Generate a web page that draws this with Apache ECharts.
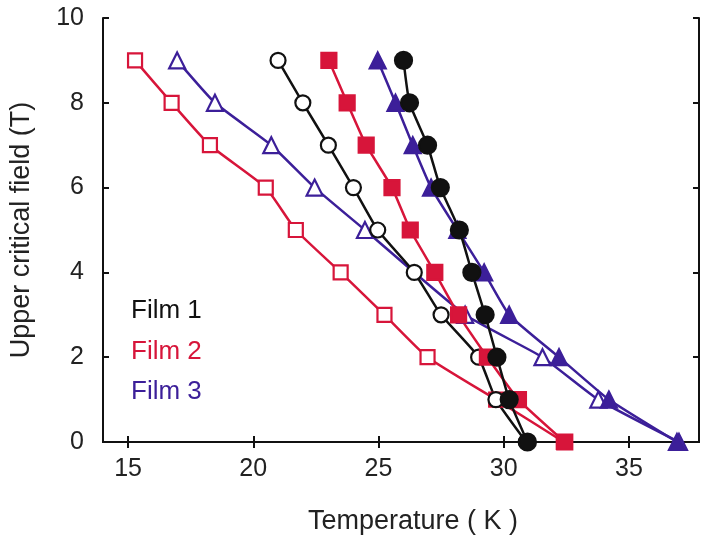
<!DOCTYPE html>
<html>
<head>
<meta charset="utf-8">
<script src="https://cdn.jsdelivr.net/npm/echarts@6/dist/echarts.min.js"></script>
<style>
  html, body { margin: 0; padding: 0; background: #fff; }
  #chart { width: 701px; height: 550px; }
</style>
</head>
<body>
<div id="chart"></div>
<script>
// field values (T) shared by all curves
const fields = [9, 8, 7, 6, 5, 4, 3, 2, 1, 0];
// temperatures (K), one per field value (null = no point)
const film1Open   = [20.99, 21.98, 23.0, 24.0, 24.97, 26.43, 27.5, 29.0, 29.69, 30.9];
const film1Filled = [26.0, 26.24, 26.96, 27.47, 28.23, 28.73, 29.26, 29.73, 30.22, 30.95];
const film2Open   = [15.28, 16.74, 18.27, 20.5, 21.7, 23.49, 25.24, 26.96, 29.7, 32.4];
const film2Filled = [23.02, 23.75, 24.51, 25.54, 26.27, 27.25, 28.2, 29.35, 30.59, 32.44];
const film3Open   = [16.96, 18.47, 20.72, 22.45, 24.46, null, 28.46, 31.55, 33.78, 37.0];
const film3Filled = [24.97, 25.68, 26.37, 27.1, 28.15, 29.22, 30.22, 32.21, 34.2, 36.92];
const xTicks = [15, 20, 25, 30, 35];
const legendNames = ['Film 1', 'Film 2', 'Film 3'];

const BLACK = '#111111', RED = '#d7153a', PURPLE = '#3c1f99';
const FONT = 'Liberation Sans, Arial, sans-serif';

function pairs(temps) {
  let out = [];
  temps.forEach((t, i) => {
    if (t !== null) out.push([t, fields[i]]);
  });
  return out;
}

function curve(name, temps, color, symbol, size, filled) {
  return {
    name: name,
    type: 'line',
    data: pairs(temps),
    smooth: 0.15,
    symbol: symbol,
    symbolSize: size,
    showAllSymbol: true,
    lineStyle: { color: color, width: 2.5 },
    itemStyle: { color: filled ? color : '#fff', borderColor: color, borderWidth: 2.2 },
    emphasis: { disabled: true },
    animation: false
  };
}

let myChart = echarts.init(document.getElementById('chart'));

let option = {
  backgroundColor: '#fff',
  grid: { left: 103, right: 2, top: 18, bottom: 108 },
  xAxis: [
    {
      type: 'value', min: 14, max: 37.8,
      name: 'Temperature ( K )', nameLocation: 'middle', nameGap: 66,
      nameTextStyle: { fontFamily: FONT, fontSize: 27, color: '#222', padding: [0, 0, 0, 24] },
      axisLine: { lineStyle: { color: '#111', width: 2 } },
      axisTick: { inside: true, length: 6, customValues: xTicks, lineStyle: { color: '#111', width: 2 } },
      axisLabel: { customValues: xTicks, margin: 15, fontFamily: FONT, fontSize: 25, color: '#222' },
      splitLine: { show: false }
    },
    {
      type: 'value', position: 'top', min: 14, max: 37.8,
      axisLine: { show: true, lineStyle: { color: '#111', width: 2 } },
      axisTick: { inside: true, length: 6, customValues: xTicks, lineStyle: { color: '#111', width: 2 } },
      axisLabel: { show: false },
      splitLine: { show: false }
    }
  ],
  yAxis: [
    {
      type: 'value', min: 0, max: 10, interval: 2,
      name: 'Upper critical field (T)', nameLocation: 'middle', nameGap: 68,
      nameTextStyle: { fontFamily: FONT, fontSize: 27, color: '#222' },
      axisLine: { show: true, lineStyle: { color: '#111', width: 2 } },
      axisTick: { inside: true, length: 6, lineStyle: { color: '#111', width: 2 } },
      axisLabel: { margin: 19, fontFamily: FONT, fontSize: 25, color: '#222' },
      splitLine: { show: false }
    },
    {
      type: 'value', position: 'right', min: 0, max: 10, interval: 2,
      axisLine: { show: true, lineStyle: { color: '#111', width: 2 } },
      axisTick: { inside: true, length: 6, lineStyle: { color: '#111', width: 2 } },
      axisLabel: { show: false },
      splitLine: { show: false }
    }
  ],
  graphic: [
    { type: 'text', left: 131, top: 298, style: { text: legendNames[0], fill: BLACK, font: '26px ' + FONT } },
    { type: 'text', left: 131, top: 339, style: { text: legendNames[1], fill: RED, font: '26px ' + FONT } },
    { type: 'text', left: 131, top: 379, style: { text: legendNames[2], fill: PURPLE, font: '26px ' + FONT } }
  ],
  series: [
    curve('Film 2 open', film2Open, RED, 'rect', 14, false),
    curve('Film 3 open', film3Open, PURPLE, 'triangle', 16, false),
    curve('Film 1 open', film1Open, BLACK, 'circle', 15, false),
    curve('Film 2 filled', film2Filled, RED, 'rect', 15, true),
    curve('Film 3 filled', film3Filled, PURPLE, 'triangle', 16, true),
    curve('Film 1 filled', film1Filled, BLACK, 'circle', 17, true)
  ]
};

myChart.setOption(option);
</script>
</body>
</html>
